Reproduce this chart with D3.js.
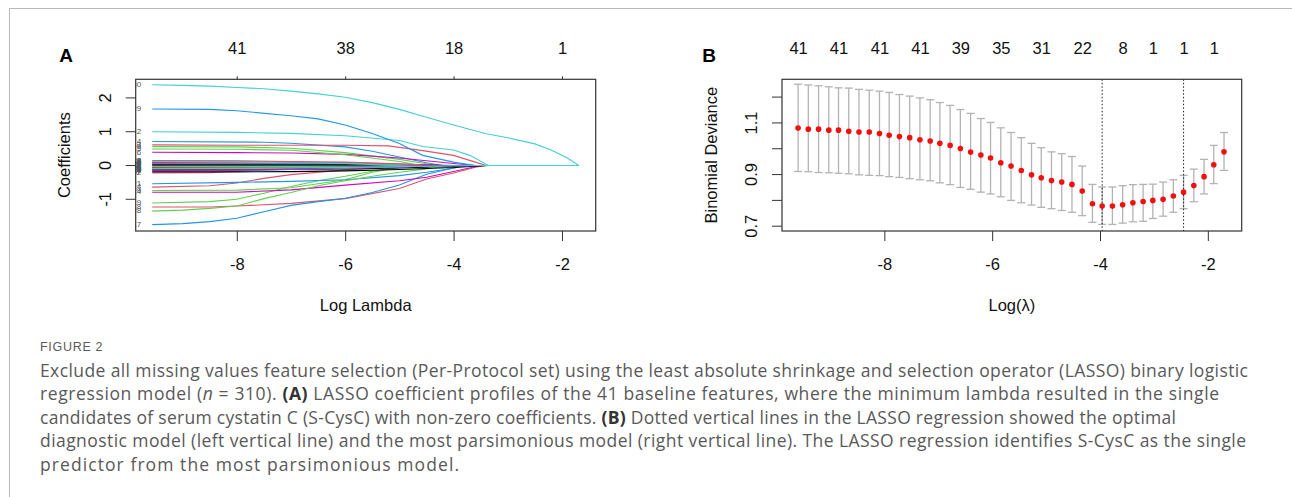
<!DOCTYPE html>
<html>
<head>
<meta charset="utf-8">
<title>Figure 2 - LASSO</title>
<style>
  body { margin: 0; background: #fff; }
  svg text { font-family: "Liberation Sans", Arial, sans-serif; }
  .caption { font-family: "Open Sans", sans-serif; fill: #595959; font-size: 17.5px; }
</style>
</head>
<body>
<svg id="fig" width="1292" height="497"></svg>

<script src="https://d3js.org/d3.v7.min.js"></script>
<script>
// ---------------- data: panel A (coefficient profiles) ----------------
var coefLambdaEnd = -1.69;   // last log(lambda) of the path
var coefTopTicks = [-8, -6, -4, -2];
var coefTopLabels = ["41", "38", "18", "1"];
var coefYTicks = [-1, 0, 1, 2];

var coefLabels = ["1","2","3","4","5","6","7","18","9","10","11","12","13","14","15","16","17","18","19","20",
                  "21","22","23","24","25","26","27","28","29","30","31","32","33","34","35","36","37","38","39","40","41"];
var coefColors = ["black","red","green","blue","green","magenta","black","red","green","blue","cyan","cyan","red","red","green","magenta","blue","magenta","green","red",
                  "blue","blue","cyan","magenta","black","red","green","green","blue","cyan","black","red","green","blue","cyan","magenta","black","red","green","magenta","cyan"];
// [log(lambda), coefficient] knots
var coefPaths = [
  [[-9.56,-0.05],[-6,-0.05],[-4.5,-0.03],[-3.5,0]],
  [[-9.56,0.04],[-6,0.04],[-5.2,0]],
  [[-9.56,-0.12],[-7,-0.11],[-6,-0.07],[-5,0]],
  [[-9.56,0.71],[-7.5,0.69],[-7,0.66],[-6,0.55],[-5.5,0.42],[-5,0.25],[-4.5,0.08],[-4.2,0]],
  [[-9.56,0.56],[-8,0.55],[-7,0.51],[-6,0.38],[-5,0.18],[-4.5,0.05],[-4.3,0]],
  [[-9.56,0.39],[-8,0.38],[-7,0.37],[-6,0.33],[-5,0.22],[-4.5,0.14],[-4,0.06],[-3.6,0]],
  [[-9.56,0.08],[-8,0.08],[-6,0.06],[-5,0.03],[-4,0]],
  [[-9.56,-1.23],[-8.5,-1.23],[-8,-1.2],[-7,-1.12],[-6,-0.98],[-5,-0.68],[-4.5,-0.4],[-4,-0.22],[-3.6,-0.05],[-3.4,0]],
  [[-9.56,-0.74],[-8,-0.73],[-7,-0.66],[-6,-0.42],[-5.5,-0.2],[-5,-0.06],[-4.7,0]],
  [[-9.56,0.06],[-7,0.05],[-5.8,0]],
  [[-9.56,-0.02],[-5,-0.02],[-3.8,0]],
  [[-9.56,1.0],[-8,0.98],[-7,0.95],[-6,0.88],[-5,0.74],[-4.57,0.56],[-4,0.46],[-3.7,0.3],[-3.36,0]],
  [[-9.56,0.61],[-8,0.6],[-6,0.6],[-5.2,0.58],[-4.57,0.44],[-4,0.3],[-3.6,0.1],[-3.4,0]],
  [[-9.56,-0.64],[-8.5,-0.6],[-8,-0.52],[-7.5,-0.38],[-7,-0.27],[-6,-0.13],[-5,-0.04],[-4.6,0]],
  [[-9.56,0.49],[-8,0.48],[-7,0.45],[-6,0.32],[-5,0.12],[-4.6,0]],
  [[-9.56,0.02],[-6,0.02],[-4.9,0]],
  [[-9.56,-1.75],[-9,-1.72],[-8.5,-1.66],[-8,-1.56],[-7.5,-1.37],[-7,-1.18],[-6.5,-1.07],[-6,-0.97],[-5.5,-0.8],[-5,-0.58],[-4.5,-0.26],[-4,-0.07],[-3.8,0]],
  [[-9.56,0.1],[-7,0.1],[-6,0.08],[-5,0.04],[-4.2,0]],
  [[-9.56,-1.11],[-8.5,-1.07],[-8,-1.0],[-7.5,-0.82],[-7,-0.62],[-6.5,-0.45],[-6,-0.32],[-5.5,-0.17],[-5,-0.04],[-4.8,0]],
  [[-9.56,0.05],[-7,0.05],[-6,0.04],[-4.8,0]],
  [[-9.56,-0.54],[-8,-0.5],[-7,-0.47],[-6,-0.42],[-5,-0.3],[-4.5,-0.2],[-4,-0.08],[-3.8,0]],
  [[-9.56,0.01],[-6,0.01],[-4.4,0]],
  [[-9.56,0.13],[-8.5,0.13],[-7,0.11],[-6,0.07],[-5,0.02],[-4.6,0]],
  [[-9.56,-0.79],[-8,-0.79],[-7,-0.72],[-6,-0.58],[-5,-0.45],[-4.5,-0.35],[-4,-0.18],[-3.5,0]],
  [[-9.56,-0.13],[-8,-0.13],[-7,-0.12],[-6,-0.1],[-5,-0.07],[-4,-0.03],[-3.4,0]],
  [[-9.56,-0.1],[-7,-0.1],[-6,-0.08],[-5,-0.04],[-4,0]],
  [[-9.56,0.03],[-7,0.03],[-5.5,0.02],[-4.5,0]],
  [[-9.56,-1.35],[-9,-1.32],[-8.5,-1.27],[-8,-1.2],[-7.5,-0.98],[-7,-0.8],[-6.5,-0.6],[-6,-0.45],[-5.5,-0.32],[-5,-0.2],[-4.5,-0.1],[-4.2,0]],
  [[-9.56,1.67],[-8.5,1.66],[-8,1.62],[-7,1.47],[-6.5,1.38],[-6,1.2],[-5.5,0.95],[-5,0.65],[-4.57,0.3],[-4,0.1],[-3.6,0]],
  [[-9.56,2.39],[-9,2.37],[-8.5,2.35],[-8,2.31],[-7.5,2.27],[-7,2.2],[-6.5,2.12],[-6,2.02],[-5.5,1.86],[-5,1.66],[-4.5,1.43],[-4,1.2],[-3.4,0.94],[-3,0.82],[-2.5,0.64],[-2.2,0.46],[-1.9,0.22],[-1.69,0]],
  [[-9.56,0.02],[-6,0.02],[-5,0]],
  [[-9.56,-0.22],[-8.5,-0.21],[-8,-0.17],[-7,-0.1],[-6,-0.05],[-5,0]],
  [[-9.56,-0.03],[-6,-0.03],[-4.8,0]],
  [[-9.56,-0.16],[-8,-0.15],[-7,-0.12],[-6,-0.08],[-5,-0.04],[-4.2,0]],
  [[-9.56,0.11],[-8,0.1],[-6,0.06],[-5,0]],
  [[-9.56,-0.06],[-7,-0.06],[-5,-0.04],[-4.2,0]],
  [[-9.56,-0.19],[-8,-0.19],[-7,-0.18],[-6,-0.16],[-5,-0.12],[-4,-0.06],[-3.6,-0.02],[-3.36,0]],
  [[-9.56,0.15],[-8,0.14],[-7,0.12],[-6,0.1],[-5,0.05],[-4.4,0]],
  [[-9.56,-0.08],[-7,-0.08],[-5.5,-0.05],[-4.5,0]],
  [[-9.56,-0.15],[-8,-0.14],[-7,-0.1],[-6,-0.06],[-5,-0.02],[-4.5,0]],
  [[-9.56,-0.09],[-6,-0.06],[-4,-0.01],[-3.4,0]]
];

// ---------------- data: panel B (cross-validation) ----------------
var cvLogLambda = [-9.60,-9.41,-9.22,-9.03,-8.85,-8.66,-8.47,-8.28,-8.09,-7.91,-7.72,-7.53,-7.34,-7.15,-6.97,
                   -6.78,-6.59,-6.40,-6.21,-6.03,-5.84,-5.65,-5.46,-5.27,-5.09,-4.90,-4.71,-4.52,-4.33,-4.14,
                   -3.96,-3.77,-3.58,-3.39,-3.20,-3.02,-2.83,-2.64,-2.45,-2.26,-2.07,-1.89,-1.70];
var cvMean = [1.078,1.074,1.074,1.070,1.070,1.066,1.063,1.063,1.057,1.050,1.045,1.041,1.033,1.028,1.019,
              1.011,0.999,0.985,0.974,0.962,0.944,0.931,0.914,0.897,0.886,0.875,0.869,0.860,0.834,0.785,
              0.776,0.776,0.781,0.789,0.794,0.798,0.802,0.815,0.830,0.856,0.890,0.936,0.986];
var cvUpper = [1.248,1.245,1.242,1.238,1.234,1.233,1.228,1.225,1.221,1.216,1.208,1.202,1.195,1.188,1.177,
               1.166,1.150,1.135,1.115,1.100,1.079,1.061,1.041,1.019,1.002,0.986,0.979,0.968,0.931,0.860,
               0.850,0.850,0.855,0.859,0.860,0.861,0.869,0.878,0.895,0.919,0.957,1.011,1.061];
var cvLower = [0.910,0.909,0.906,0.905,0.903,0.901,0.897,0.895,0.894,0.890,0.887,0.882,0.878,0.874,0.866,
               0.859,0.848,0.841,0.830,0.823,0.812,0.798,0.789,0.780,0.771,0.766,0.759,0.752,0.739,0.713,
               0.705,0.705,0.710,0.715,0.717,0.728,0.737,0.752,0.766,0.793,0.823,0.863,0.914];
var cvTopIdx = [0, 4, 8, 12, 16, 20, 24, 28, 32, 35, 38, 41];
var cvTopLabels = ["41","41","41","41","39","35","31","22","8","1","1","1"];
var cvXTicks = [-8, -6, -4, -2];
var cvYTicks = [0.7, 0.8, 0.9, 1.0, 1.1, 1.2];
var cvYLabels = [0.7, 0.9, 1.1];
var cvMinIdx = 30, cv1seIdx = 38;

// ---------------- caption ----------------
var figureTitle = "FIGURE 2";
var captionLines = [
  "Exclude all missing values feature selection (Per-Protocol set) using the least absolute shrinkage and selection operator (LASSO) binary logistic",
  "regression model (*n* = 310). **(A)** LASSO coefficient profiles of the 41 baseline features, where the minimum lambda resulted in the single",
  "candidates of serum cystatin C (S-CysC) with non-zero coefficients. **(B)** Dotted vertical lines in the LASSO regression showed the optimal",
  "diagnostic model (left vertical line) and the most parsimonious model (right vertical line). The LASSO regression identifies S-CysC as the single",
  "predictor from the most parsimonious model."
];
var captionWidths = [1208, 1179, 1136, 1206, 419];

// ---------------- drawing ----------------
var palette = {black: "#000000", red: "#DF536B", green: "#61D04F", blue: "#2297E6", cyan: "#45d0d6", magenta: "#CD0BBC"};
var FS = 16.5;
var svg = d3.select("#fig");
svg.append("rect").attr("width", 1292).attr("height", 497).attr("fill", "#fff");

// figure frame (left and top rule)
svg.append("path").attr("d", "M9.5,497V8.5H1292").attr("fill", "none").attr("stroke", "#b8b8b8");

var fmt = function(d) { return String(d); };

function frame(g, box, x, y, o) {
  // bottom axis
  var b = g.append("g").attr("transform", "translate(0," + box.bottom + ")")
    .call(d3.axisBottom(x).tickValues(o.xTicks).tickSize(10).tickFormat(fmt));
  b.select(".domain").remove();
  b.selectAll("text").attr("y", 33).attr("dy", "0.35em");

  // top axis (number of non-zero coefficients)
  var t = g.append("g").attr("transform", "translate(0," + box.top + ")")
    .call(d3.axisTop(x).tickValues(o.topAt).tickSize(o.topTick).tickFormat(function(d, i) { return o.topLabels[i]; }));
  t.select(".domain").remove();
  t.selectAll("text").attr("y", -31).attr("dy", "0.35em");

  // left axis, labels parallel to the axis
  var l = g.append("g").attr("transform", "translate(" + box.left + ",0)")
    .call(d3.axisLeft(y).tickValues(o.yTicks).tickSize(10)
      .tickFormat(function(d) { return o.yLabels.indexOf(d) >= 0 ? fmt(d) : ""; }));
  l.select(".domain").remove();
  l.selectAll("text").attr("x", 0).attr("y", -30.5).attr("dy", "0.35em")
    .attr("text-anchor", "middle").attr("transform", "rotate(-90)");

  [b, t, l].forEach(function(a) {
    a.attr("font-family", "Liberation Sans, Arial, sans-serif").attr("font-size", FS).attr("color", "#333");
    a.selectAll("text").attr("fill", "#111");
  });

  g.append("rect").attr("x", box.left).attr("y", box.top)
    .attr("width", box.right - box.left).attr("height", box.bottom - box.top)
    .attr("fill", "none").attr("stroke", "#333").attr("stroke-width", 1.2);

  g.append("text").attr("x", (box.left + box.right) / 2).attr("y", box.bottom + 74).attr("dy", "0.35em")
    .attr("text-anchor", "middle").attr("font-size", FS).attr("fill", "#111").text(o.xTitle);
  g.append("text").attr("transform", "translate(" + (box.left - 71) + "," + ((box.top + box.bottom) / 2) + ") rotate(-90)")
    .attr("dy", "0.35em").attr("text-anchor", "middle").attr("font-size", FS).attr("fill", "#111").text(o.yTitle);
  g.append("text").attr("x", o.tagX).attr("y", 55).attr("dy", "0.35em").attr("text-anchor", "middle")
    .attr("font-size", 19).attr("font-weight", "bold").attr("fill", "#000").text(o.tag);
}

// ---- panel A ----
var boxA = {left: 135.7, right: 595.7, top: 79.3, bottom: 231};
var xA = d3.scaleLinear().domain([-9.865, -1.378]).range([boxA.left, boxA.right]);
var yA = d3.scaleLinear().domain([-1.953, 2.536]).range([boxA.bottom, boxA.top]);
var gA = svg.append("g");

svg.append("clipPath").attr("id", "clipA").append("rect")
  .attr("x", boxA.left).attr("y", boxA.top).attr("width", boxA.right - boxA.left).attr("height", boxA.bottom - boxA.top);

var line = d3.line().x(function(d) { return xA(d[0]); }).y(function(d) { return yA(d[1]); });
var plotA = gA.append("g").attr("clip-path", "url(#clipA)");
// half-pixel nudge so the shared zero line sits on one pixel row (last path colour wins, as in R)
var linesA = plotA.append("g").attr("transform", "translate(0,0.5)");

linesA.selectAll("path.coef")
  .data(coefPaths.map(function(p) {
    var last = p[p.length - 1];
    return last[1] === 0 && last[0] < coefLambdaEnd ? p.concat([[coefLambdaEnd, 0]]) : p;
  }))
  .enter().append("path")
    .attr("class", "coef")
    .attr("d", line)
    .attr("fill", "none")
    .attr("stroke", function(d, i) { return palette[coefColors[i]]; })
    .attr("stroke-width", 1.1);

// variable numbers at the left end of each path (clipped by the box as in R)
plotA.selectAll("text.lab")
  .data(coefPaths)
  .enter().append("text")
    .attr("class", "lab")
    .attr("x", boxA.left + 5.5)
    .attr("y", function(d) { return yA(d[0][1]); })
    .attr("dy", "0.35em")
    .attr("text-anchor", "end")
    .attr("font-size", 8)
    .attr("fill", "#555")
    .text(function(d, i) { return coefLabels[i]; });

frame(gA, boxA, xA, yA, {
  xTicks: coefTopTicks, topAt: coefTopTicks, topLabels: coefTopLabels, topTick: 3,
  yTicks: coefYTicks, yLabels: coefYTicks, xTitle: "Log Lambda", yTitle: "Coefficients", tag: "A", tagX: 66
});

// ---- panel B ----
var boxB = {left: 782, right: 1241.7, top: 79.3, bottom: 231};
var xB = d3.scaleLinear().domain([-9.898, -1.372]).range([boxB.left, boxB.right]);
var yB = d3.scaleLinear().domain([0.6795, 1.267]).range([boxB.bottom, boxB.top]);
var gB = svg.append("g");

var bars = gB.append("g").attr("stroke", "#b3b3b3").attr("stroke-width", 1.3);
cvLogLambda.forEach(function(l, i) {
  var cx = xB(l);
  bars.append("line").attr("x1", cx).attr("x2", cx).attr("y1", yB(cvLower[i])).attr("y2", yB(cvUpper[i]));
  bars.append("line").attr("x1", cx - 4).attr("x2", cx + 4).attr("y1", yB(cvUpper[i])).attr("y2", yB(cvUpper[i]));
  bars.append("line").attr("x1", cx - 4).attr("x2", cx + 4).attr("y1", yB(cvLower[i])).attr("y2", yB(cvLower[i]));
});

[cvMinIdx, cv1seIdx].forEach(function(i) {
  gB.append("line")
    .attr("x1", xB(cvLogLambda[i])).attr("x2", xB(cvLogLambda[i]))
    .attr("y1", boxB.top).attr("y2", boxB.bottom)
    .attr("stroke", "#222").attr("stroke-width", 1).attr("stroke-dasharray", "1.5,2");
});

gB.selectAll("circle.pt")
  .data(cvMean)
  .enter().append("circle")
    .attr("class", "pt")
    .attr("cx", function(d, i) { return xB(cvLogLambda[i]); })
    .attr("cy", function(d) { return yB(d); })
    .attr("r", 2.8)
    .attr("fill", "#f01010");

frame(gB, boxB, xB, yB, {
  xTicks: cvXTicks, topAt: cvTopIdx.map(function(i) { return cvLogLambda[i]; }), topLabels: cvTopLabels, topTick: 0,
  yTicks: cvYTicks, yLabels: cvYLabels, xTitle: "Log(\u03bb)", yTitle: "Binomial Deviance", tag: "B", tagX: 709
});

// ---- caption ----
svg.append("text").attr("x", 40).attr("y", 350.5)
  .attr("font-family", "Open Sans, sans-serif").attr("font-size", 12.5).attr("letter-spacing", 0.7)
  .attr("fill", "#5a5a5a").text(figureTitle);

captionLines.forEach(function(s, k) {
  var t = svg.append("text").attr("class", "caption").attr("x", 40).attr("y", 376.5 + k * 23.5)
    .attr("textLength", captionWidths[k]).attr("lengthAdjust", "spacing");
  s.split(/(\*\*[^*]+\*\*|\*[^*]+\*)/).forEach(function(part) {
    if (!part) return;
    var sp = t.append("tspan");
    if (part.indexOf("**") === 0) sp.attr("font-weight", 700).attr("fill", "#333").text(part.slice(2, -2));
    else if (part[0] === "*") sp.attr("font-style", "italic").text(part.slice(1, -1));
    else sp.text(part);
  });
});
</script>
</body>
</html>
